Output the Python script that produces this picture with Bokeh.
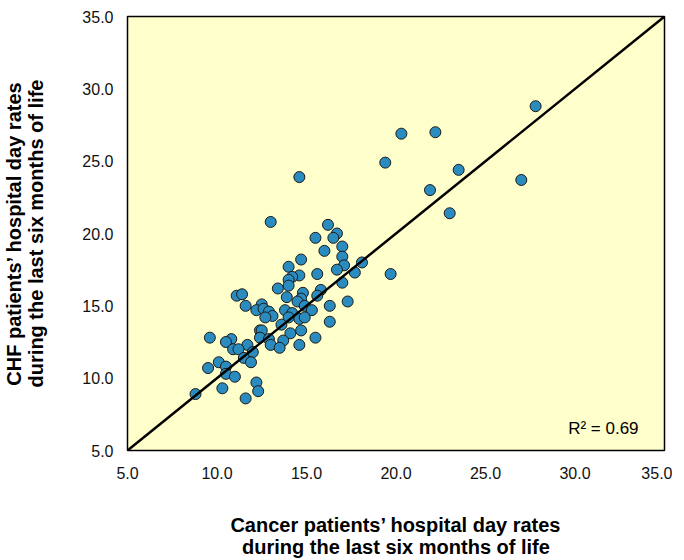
from bokeh.plotting import figure
from bokeh.models import FixedTicker, NumeralTickFormatter, Label, Slope, Range1d
from bokeh.embed import file_html
from bokeh.resources import INLINE

# Cancer patients' hospital day rates (x) vs CHF patients' hospital day rates (y)
cancer_rates = [
    13.0, 16.2, 16.7, 16.5, 15.5, 17.0, 16.0, 14.7, 17.0, 18.1,
    17.1, 16.7, 17.7, 19.7, 14.0, 15.6, 14.6, 14.2, 14.0, 17.0,
    14.0, 13.4, 15.8, 14.8, 13.9, 15.6, 14.7, 11.1, 11.4, 14.5,
    17.3, 11.6, 12.5, 16.3, 14.9, 12.2, 12.6, 12.9, 13.8, 15.3,
    14.2, 13.1, 12.7, 14.0, 14.6, 14.9, 16.3, 13.6, 12.4, 12.5,
    14.7, 14.1, 15.5, 9.6, 12.4, 12.9, 10.8, 10.5, 13.7, 13.0,
    14.6, 11.7, 10.9, 11.2, 13.5, 12.0, 11.5, 11.9, 10.1, 9.5,
    10.5, 10.5, 11.0, 12.2, 10.3, 12.3, 8.8, 11.6,
    27.8, 20.3, 22.2, 19.4, 23.5, 21.9, 23.0, 27.0, 14.6,
]
chf_rates = [
    20.8, 20.6, 20.0, 19.7, 19.7, 19.1, 18.8, 18.2, 18.4, 18.0,
    17.8, 17.5, 17.3, 17.2, 17.7, 17.2, 17.1, 17.0, 16.8, 16.6,
    16.4, 16.2, 16.1, 15.9, 15.6, 15.7, 15.5, 15.7, 15.8, 15.3,
    15.3, 15.0, 15.1, 15.0, 15.0, 14.7, 14.8, 14.6, 14.7, 14.7,
    14.5, 14.3, 14.2, 14.2, 14.1, 14.2, 13.9, 13.7, 13.3, 13.3,
    13.3, 13.1, 12.8, 12.8, 12.8, 12.7, 12.7, 12.5, 12.6, 12.3,
    12.3, 12.3, 12.0, 12.0, 12.1, 11.8, 11.4, 11.1, 11.1, 10.7,
    10.8, 10.3, 10.1, 9.7, 9.3, 9.1, 8.9, 8.6,
    28.8, 26.9, 27.0, 24.9, 24.4, 23.0, 21.4, 23.7, 23.9,
]
axis_ticks = [5, 10, 15, 20, 25, 30, 35]
r_squared_text = "R\u00b2 = 0.69"
x_title = "Cancer patients\u2019 hospital day rates\nduring the last six months of life"
y_title = "CHF patients\u2019 hospital day rates\nduring the last six months of life"

FONT = "Liberation Sans"

p = figure(
    width=668, height=544,
    output_backend="svg", toolbar_location=None,
    x_range=Range1d(axis_ticks[0], axis_ticks[-1]),
    y_range=Range1d(axis_ticks[0], axis_ticks[-1]),
    min_border_left=123, min_border_right=8, min_border_top=16, min_border_bottom=94,
    frame_width=537, frame_height=434,
)
p.background_fill_color = "#FFFFCC"
p.border_fill_color = "white"
p.outline_line_color = "black"
p.outline_line_width = 1.5
p.grid.visible = False

for ax in (p.xaxis[0], p.yaxis[0]):
    ax.ticker = FixedTicker(ticks=axis_ticks)
    ax.formatter = NumeralTickFormatter(format="0.0")
    ax.axis_line_color = None
    ax.major_tick_line_color = None
    ax.minor_tick_line_color = None
    ax.major_tick_in = 0
    ax.major_tick_out = 0
    ax.major_label_text_font = FONT
    ax.major_label_text_font_size = "16px"
    ax.major_label_text_color = "#111111"
    ax.axis_label_text_font = FONT
    ax.axis_label_text_font_size = "20px"
    ax.axis_label_text_font_style = "bold"
    ax.axis_label_text_line_height = 1.0
    ax.axis_label_text_color = "black"

p.xaxis.axis_label = x_title
p.yaxis.axis_label = y_title
p.xaxis.major_label_standoff = 16
p.yaxis.major_label_standoff = 14
p.xaxis.axis_label_standoff = 32
p.yaxis.axis_label_standoff = 32

p.add_layout(Slope(gradient=1, y_intercept=0, line_color="black", line_width=2.5))

p.scatter(cancer_rates, chf_rates, size=11, marker="circle",
          fill_color="#2A8CBE", line_color="#1a1a1a", line_width=1)

p.add_layout(Label(x=33.55, y=6.55, text=r_squared_text, text_align="right",
                   text_baseline="alphabetic", text_font=FONT,
                   text_font_size="17px", text_color="black"))

open("out.html", "w").write(file_html(p, INLINE))
